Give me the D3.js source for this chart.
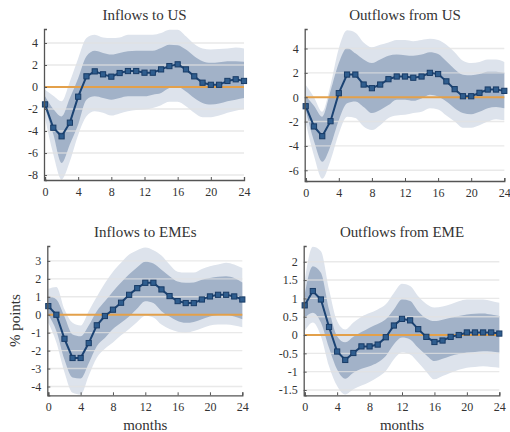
<!DOCTYPE html>
<html><head><meta charset="utf-8">
<script src="https://cdn.jsdelivr.net/npm/d3@7"></script>
<style>body{margin:0;background:#fff}svg{display:block}</style>
</head><body>
<svg id="c" width="510" height="432"></svg>
<script>
const months = d3.range(0, 25);
const titles = ["Inflows to US", "Outflows from US", "Inflows to EMEs", "Outflows from EME"];
const xTicks = [0, 4, 8, 12, 16, 20, 24];
const yTicks1 = [-8, -6, -4, -2, 0, 2, 4];
const yTicks2 = [-6, -4, -2, 0, 2, 4];
const yTicks3 = [-4, -3, -2, -1, 0, 1, 2, 3];
const yTicks4 = [-1.5, -1, -0.5, 0, 0.5, 1, 1.5, 2];

// Inflows to US
const mid1 = [-1.58,-3.7,-4.48,-3.24,-0.88,0.97,1.42,1.15,0.94,1.27,1.45,1.45,1.3,1.3,1.6,1.9,2.06,1.6,0.97,0.39,0.2,0.2,0.55,0.7,0.55];
const in1Hi = [-0.85,-2.0,-2.67,-1.0,0.8,2.8,3.3,3.1,2.95,3.1,3.25,3.3,3.3,3.3,3.55,3.85,3.8,3.4,2.8,2.35,2.2,2.25,2.35,2.35,2.3];
const in1Lo = [-1.9,-4.3,-6.9,-5.2,-3.4,-1.15,-0.85,-1.0,-1.15,-1.0,-0.85,-0.85,-0.85,-0.7,-0.55,-0.1,0.0,-0.4,-1.0,-1.45,-1.6,-1.5,-1.3,-1.15,-1.0];
const out1Hi = [-0.25,-0.8,-1.3,0.5,2.6,4.45,4.75,4.5,4.45,4.5,4.75,4.75,4.75,4.75,4.9,5.2,5.2,4.6,3.9,3.5,3.4,3.45,3.5,3.6,3.5];
const out1Lo = [-2.8,-6.1,-8.4,-6.75,-4.35,-2.65,-2.2,-2.35,-2.6,-2.4,-2.2,-2.1,-2.05,-1.9,-1.65,-1.35,-1.35,-1.75,-2.35,-2.75,-2.75,-2.6,-2.35,-2.15,-2.0];

// Outflows from US
const mid2 = [-0.74,-2.4,-3.2,-1.97,0.33,1.86,1.86,1.04,0.74,1.04,1.48,1.7,1.7,1.6,1.7,2.0,1.9,1.3,0.66,0.08,0.08,0.36,0.63,0.63,0.52];
const in2Hi = [0.08,-0.7,-1.6,0.5,2.8,4.05,3.6,3.1,2.8,3.1,3.4,3.5,3.45,3.4,3.5,3.7,3.55,2.95,2.3,1.85,1.8,1.9,2.1,2.1,2.0];
const in2Lo = [-1.05,-3.6,-5.3,-4.0,-1.9,-0.5,-0.35,-0.8,-1.3,-1.05,-0.65,-0.2,-0.2,-0.3,-0.1,0.2,0.05,-0.35,-0.9,-1.3,-1.4,-1.2,-0.9,-0.8,-0.9];
const out2Hi = [1.0,0.0,-1.2,1.0,4.0,5.5,5.3,4.5,4.1,4.3,4.5,4.7,4.7,4.6,4.7,4.8,4.7,4.3,3.7,3.0,2.8,2.9,3.1,3.1,2.9];
const out2Lo = [-2.1,-4.8,-6.7,-5.2,-3.0,-1.6,-1.7,-2.4,-2.7,-2.3,-1.7,-1.5,-1.45,-1.3,-1.2,-0.9,-1.0,-1.5,-2.0,-2.5,-2.5,-2.3,-2.0,-1.8,-1.9];

// Inflows to EMEs
const mid3 = [0.48,0.0,-1.34,-2.41,-2.41,-1.58,-0.59,-0.07,0.28,0.67,1.11,1.48,1.78,1.78,1.41,1.04,0.76,0.65,0.65,0.85,1.02,1.11,1.11,1.02,0.85];
const in3Hi = [1.05,0.85,-0.1,-1.1,-1.2,-0.6,0.2,0.75,1.3,1.8,2.25,2.65,2.95,2.85,2.5,2.15,1.85,1.78,1.8,1.95,2.05,2.12,2.15,2.05,1.8];
const in3Lo = [0.0,-0.9,-2.5,-3.5,-3.55,-2.7,-1.75,-1.3,-0.8,-0.45,-0.1,0.35,0.75,0.65,0.2,-0.1,-0.35,-0.45,-0.4,-0.25,-0.1,-0.02,0.0,-0.1,-0.25];
const out3Hi = [1.45,1.55,0.3,-0.45,-0.6,0.2,1.0,1.75,2.4,2.9,3.35,3.6,3.75,3.6,3.3,2.8,2.4,2.35,2.35,2.55,2.7,2.8,2.9,2.8,2.6];
const out3Lo = [-0.45,-1.55,-3.2,-4.35,-4.45,-3.4,-2.4,-1.9,-1.55,-1.15,-0.8,-0.4,-0.05,-0.15,-0.55,-0.8,-0.95,-1.0,-0.9,-0.75,-0.6,-0.55,-0.55,-0.6,-0.7];

// Outflows from EME
const mid4 = [0.81,1.2,0.97,0.22,-0.45,-0.68,-0.49,-0.31,-0.31,-0.26,-0.06,0.26,0.44,0.4,0.16,-0.05,-0.19,-0.15,-0.05,0.0,0.07,0.07,0.07,0.07,0.04];
const in4Hi = [1.1,1.88,1.7,0.7,-0.03,-0.2,-0.05,0.08,0.2,0.3,0.43,0.7,0.97,0.93,0.65,0.45,0.38,0.42,0.47,0.52,0.56,0.58,0.59,0.56,0.52];
const in4Lo = [0.47,0.61,0.34,-0.35,-0.94,-1.19,-1.03,-0.92,-0.85,-0.75,-0.57,-0.25,-0.07,-0.12,-0.35,-0.55,-0.71,-0.65,-0.57,-0.52,-0.48,-0.46,-0.44,-0.45,-0.48];
const out4Hi = [1.47,2.41,2.29,1.25,0.38,0.15,0.34,0.5,0.6,0.7,0.84,1.15,1.4,1.34,1.06,0.85,0.75,0.78,0.84,0.92,0.97,0.97,0.97,0.93,0.88];
const out4Lo = [0.11,0.34,-0.03,-0.85,-1.39,-1.62,-1.48,-1.38,-1.28,-1.15,-0.98,-0.66,-0.48,-0.53,-0.75,-1.0,-1.21,-1.12,-1.03,-0.95,-0.89,-0.87,-0.85,-0.87,-0.89];

const panels = [
  {mid: mid1, inHi: in1Hi, inLo: in1Lo, outHi: out1Hi, outLo: out1Lo, yTicks: yTicks1, dom: [-8.45, 5.27], xr: [45, 244], yr: [180, 29]},
  {mid: mid2, inHi: in2Hi, inLo: in2Lo, outHi: out2Hi, outLo: out2Lo, yTicks: yTicks2, dom: [-6.88, 5.6], xr: [305.7, 504.3], yr: [181, 29]},
  {mid: mid3, inHi: in3Hi, inLo: in3Lo, outHi: out3Hi, outLo: out3Lo, yTicks: yTicks3, dom: [-4.49, 3.83], xr: [48.3, 242.3], yr: [395.3, 246]},
  {mid: mid4, inHi: in4Hi, inLo: in4Lo, outHi: out4Hi, outLo: out4Lo, yTicks: yTicks4, dom: [-1.645, 2.43], xr: [304.7, 499.3], yr: [395.3, 246]}
];

const svg = d3.select("#c");
const FONT = "'Liberation Serif', 'DejaVu Serif', serif";

panels.forEach((p, i) => {
  const x = d3.scaleLinear().domain([0, 24]).range(p.xr);
  const y = d3.scaleLinear().domain(p.dom).range(p.yr);
  const g = svg.append("g");

  const area = (hi, lo) => d3.area().x((d, j) => x(months[j])).y0((d, j) => y(lo[j])).y1((d, j) => y(hi[j])).curve(d3.curveMonotoneX)(months);
  g.append("path").attr("d", area(p.outHi, p.outLo)).attr("fill", "#dde3ec");
  g.append("path").attr("d", area(p.inHi, p.inLo)).attr("fill", "#a2b2c8");

  // grid
  g.selectAll(".grid").data(p.yTicks.filter(t => t !== 0)).join("line")
    .attr("x1", x(0)).attr("x2", x(24))
    .attr("y1", d => y(d)).attr("y2", d => y(d))
    .attr("stroke", "#e2e2e2").attr("stroke-opacity", 0.75).attr("stroke-width", 1.4);

  // zero line
  g.append("line").attr("x1", x(0)).attr("x2", x(24)).attr("y1", y(0)).attr("y2", y(0))
    .attr("stroke", "#e3a04a").attr("stroke-width", 2);

  // line
  const line = d3.line().x((d, j) => x(months[j])).y(d => y(d));
  g.append("path").attr("d", line(p.mid)).attr("fill", "none").attr("stroke", "#1b4373").attr("stroke-width", 2);
  g.selectAll(".m").data(p.mid).join("rect")
    .attr("x", (d, j) => x(months[j]) - 2.6).attr("y", d => y(d) - 2.6)
    .attr("width", 5.2).attr("height", 5.2)
    .attr("fill", "#2f5d8e").attr("stroke", "#183b66").attr("stroke-width", 1);

  // axes
  const yAxis = d3.axisLeft(y).tickValues(p.yTicks).tickSize(-3).tickPadding(6).tickFormat(d3.format("~g"));
  const ya = g.append("g").attr("transform", `translate(${p.xr[0] - 1},0)`).call(yAxis);
  const xAxis = d3.axisBottom(x).tickValues(xTicks).tickSize(-3).tickPadding(7);
  const xa = g.append("g").attr("transform", `translate(0,${p.yr[0]})`).call(xAxis);
  [ya, xa].forEach(a => {
    a.select(".domain").attr("stroke", "#555").attr("stroke-width", 1.3);
    a.selectAll(".tick line").attr("stroke", "#555");
    a.selectAll(".tick text").attr("font-family", FONT).attr("font-size", 12).attr("fill", "#333");
  });
  ya.selectAll(".tick text").text(d => d < 0 ? "-" + d3.format("~g")(-d) : d3.format("~g")(d));

  g.append("text").attr("x", (p.xr[0] + p.xr[1]) / 2).attr("y", p.yr[1] - 9)
    .attr("text-anchor", "middle").attr("font-family", FONT).attr("font-size", 15).attr("fill", "#333")
    .text(titles[i]);

  if (i >= 2) {
    g.append("text").attr("x", (p.xr[0] + p.xr[1]) / 2).attr("y", 430)
      .attr("text-anchor", "middle").attr("font-family", FONT).attr("font-size", 15).attr("fill", "#333")
      .text("months");
  }
  if (i === 2) {
    g.append("text").attr("transform", `translate(20,${(p.yr[0] + p.yr[1]) / 2}) rotate(-90)`)
      .attr("text-anchor", "middle").attr("font-family", FONT).attr("font-size", 15).attr("fill", "#333")
      .text("% points");
  }
});
</script>
</body></html>
